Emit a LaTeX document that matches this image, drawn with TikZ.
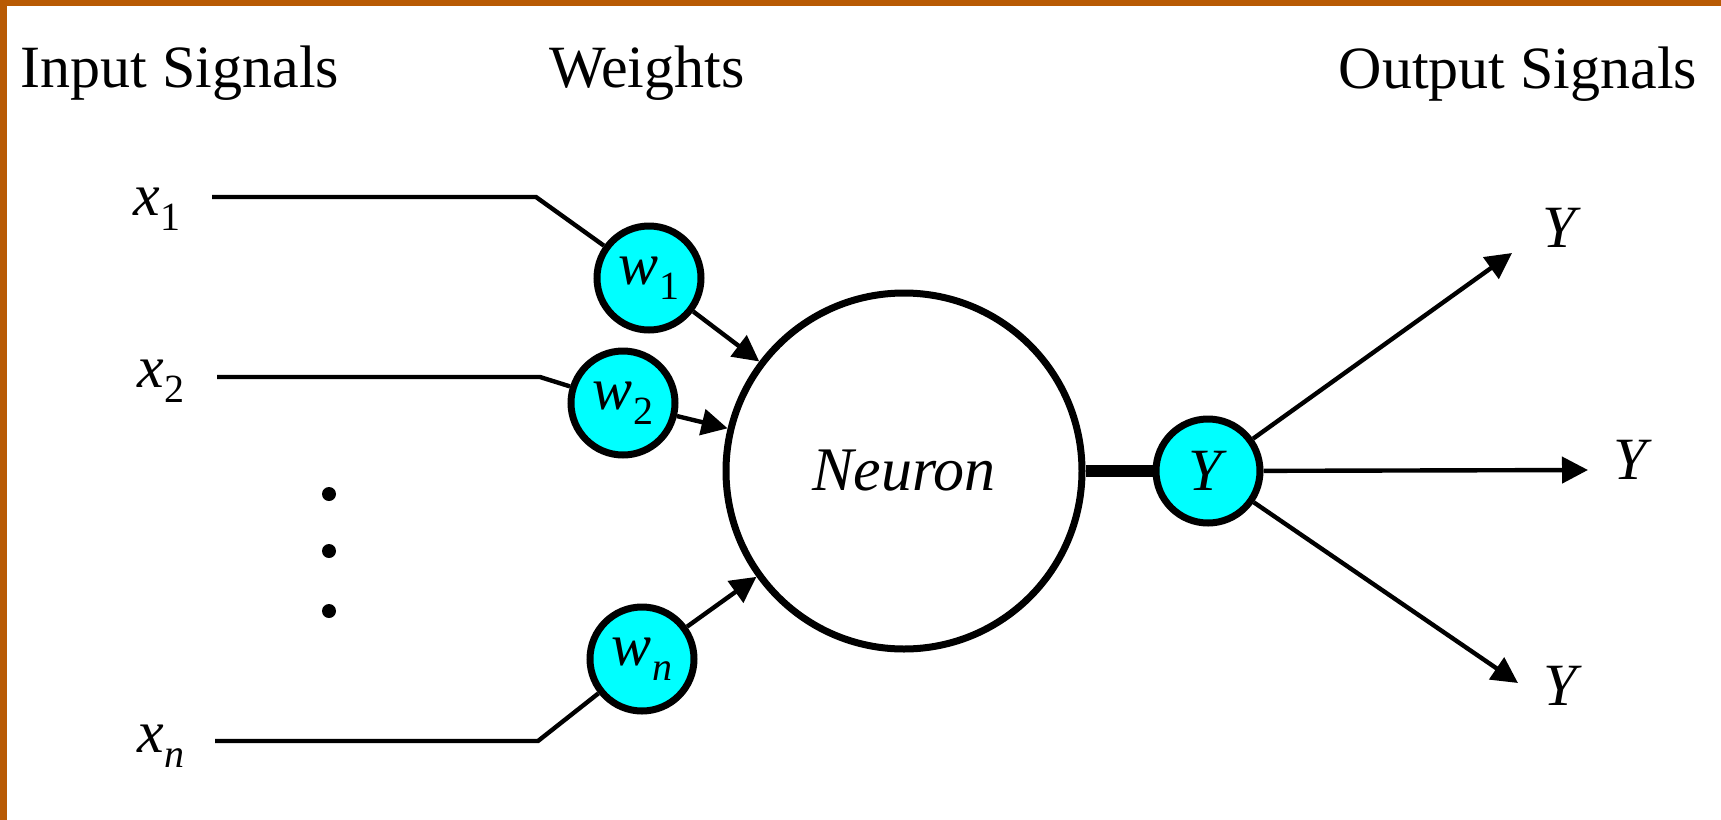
\documentclass[tikz,border=0pt]{standalone}
\usepackage{fontspec}
\setmainfont{Liberation Serif}
\usetikzlibrary{arrows.meta}
\definecolor{slideorange}{RGB}{184,90,4}
\definecolor{wcyan}{RGB}{0,255,255}
\newcommand{\sublbl}[2]{\textit{#1}\raisebox{-7.5pt}{\fontsize{20}{20}\selectfont #2}}
\begin{document}
\begin{tikzpicture}[x=0.5pt,y=-0.5pt,
    every node/.style={font=\fontsize{30}{36}\selectfont},
    wt/.style={circle,draw,line width=3.5pt,fill=wcyan,minimum size=52pt,inner sep=0pt},
    lbl/.style={anchor=base west,inner sep=0pt},
    wire/.style={line width=2.2pt},
    sig/.style={line width=2.2pt,-{Triangle[length=13pt,width=13pt]}}]
    \useasboundingbox (0,0) rectangle (1721,820);
    \fill[slideorange] (0,0) rectangle (1721,6); \fill[slideorange] (0,0) rectangle (7,820);

    \node[anchor=base] (tin) at (180,87) {Input Signals};
    \node[anchor=base] (twt) at (647,87) {Weights};
    \node[anchor=base] (tout) at (1518,88) {Output Signals};

    \node[circle,draw,line width=3.5pt,minimum size=178pt,inner sep=0pt,font=\fontsize{31}{36}\selectfont\itshape] (neuron) at (904,471) {Neuron};
    \node[wt] (yout) at (1208,471) {\textit{Y}};
    \draw[line width=6pt] (neuron) -- (yout);

    % inputs
    \foreach \k/\s/\ya/\xs/\xe/\lx/\ly/\wx/\wy in {1/1/197/212/536/133/215/649/278, 2/2/377/217/540/137/387/623/403, n/\textit{n}/741/215/538/137/752/642/659} {
        \node[lbl] (x\k) at (\lx,\ly) {\sublbl{x}{\s}};
        \node[wt] (w\k) at (\wx,\wy) {\sublbl{w}{\s}};
        \coordinate (a\k) at (\xs,\ya); \coordinate (b\k) at (\xe,\ya);
        \draw[wire] (a\k) -- (b\k) -- (w\k);
        \draw[sig] (w\k) -- (neuron);
    }
    \foreach \y [count=\i] in {494,551,611} \node[circle,fill,inner sep=0pt,minimum size=7pt] (dot\i) at (329,\y) {};

    % outputs
    \foreach \i/\ox/\oy/\tx/\ty in {1/1512/253/1542/247, 2/1588/470/1613/479, 3/1518/683/1543/705} {
        \coordinate (o\i) at (\ox,\oy);
        \draw[sig] (yout) -- (o\i);
        \node[lbl] (y\i) at (\tx,\ty) {\textit{Y}};
    }
\end{tikzpicture}
\end{document}
